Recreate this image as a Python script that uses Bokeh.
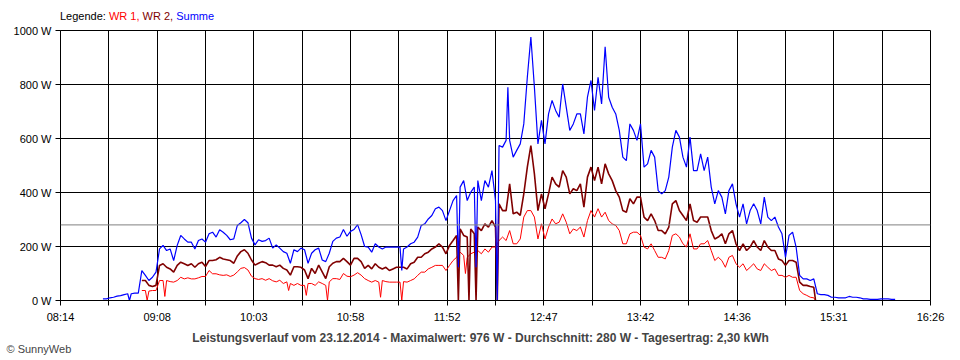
import numpy as np
from bokeh.plotting import figure
from bokeh.models import Range1d, FixedTicker, Span, Label, Div
from bokeh.layouts import column
from bokeh.embed import file_html
from bokeh.resources import INLINE

# ---------------- data ----------------
x_tick_labels = ["08:14", "09:08", "10:03", "10:58", "11:52", "12:47", "13:42", "14:36", "15:31", "16:26"]
y_ticks = [0, 200, 400, 600, 800, 1000]
y_tick_labels = ["0 W", "200 W", "400 W", "600 W", "800 W", "1000 W"]

series_names = ["WR 1", "WR 2", "Summe"]
series_colors = ["#FF0000", "#800000", "#0000FF"]

step_min = 2
sum_start = "08:38"
summe = [6, 6, 10, 12, 16, 18, 22, 25, 25, 27, 27, 111, 93, 74, 86, 105, 191, 204, 185, 191,
         148, 204, 241, 228, 216, 216, 191, 222, 228, 216, 247, 253, 235, 262, 253, 241, 225, 228, 278, 288,
         300, 288, 231, 206, 225, 219, 222, 231, 194, 206, 194, 181, 175, 138, 188, 181, 194, 188, 138, 175,
         188, 194, 150, 144, 175, 219, 231, 235, 263, 238, 256, 263, 281, 244, 200, 198, 179, 210, 198, 191,
         198, 198, 198, 198, 198, 191, 198, 210, 216, 235, 278, 284, 302, 315, 340, 346, 333, 296, 333, 370,
         389, 420, 444, 370, 401, 420, 444, 370, 444, 420, 481, 370, 574, 568, 593, 593, 531, 556, 580, 654,
         827, 976, 790, 580, 667, 580, 691, 741, 704, 679, 802, 716, 630, 654, 691, 691, 617, 753, 815, 704,
         827, 728, 940, 753, 716, 691, 630, 531, 518, 654, 630, 593, 654, 494, 506, 556, 531, 407, 395, 407,
         457, 568, 630, 605, 531, 494, 605, 481, 481, 543, 481, 531, 420, 358, 407, 383, 321, 407, 432, 358,
         309, 358, 284, 333, 358, 333, 284, 383, 309, 296, 309, 272, 247, 160, 241, 253, 198, 93, 80, 80,
         74, 80, 25, 22, 22, 19, 12, 12, 10, 10, 10, 15, 12, 12, 10, 6, 6, 4, 4, 4,
         6, 6, 6, 4, 4]
summe_extra_t = ["08:53", "11:27", "11:59", "12:09", "12:21", "12:27"]
summe_extra_w = [0, 111, 123, 123, 0, 790]

wr_start = "09:00"
wr2 = [74, 74, 56, 52, 56, 130, 136, 123, 117, 105, 130, 142, 136, 130, 136, 123, 136, 142, 126, 148,
       148, 151, 160, 154, 151, 148, 138, 165, 181, 188, 175, 150, 131, 138, 144, 140, 131, 131, 125, 131,
       119, 113, 94, 125, 125, 123, 113, 81, 119, 100, 131, 106, 81, 125, 138, 144, 144, 156, 144, 131,
       156, 156, 144, 119, 130, 117, 136, 123, 117, 123, 111, 117, 123, 123, 123, 117, 136, 142, 160, 160,
       173, 179, 191, 198, 210, 198, 173, 204, 222, 241, 265, 241, 235, 265, 247, 272, 259, 284, 272, 296,
       272, 358, 333, 333, 432, 321, 327, 315, 395, 494, 574, 469, 333, 395, 340, 395, 457, 432, 420, 481,
       457, 395, 414, 407, 432, 346, 457, 494, 444, 494, 432, 506, 469, 444, 407, 383, 333, 327, 377, 358,
       383, 383, 309, 296, 321, 296, 259, 259, 247, 272, 358, 370, 333, 315, 296, 358, 296, 290, 309, 309,
       309, 259, 228, 235, 247, 210, 247, 259, 210, 185, 210, 185, 198, 222, 198, 185, 222, 198, 185, 185,
       154, 148, 130, 148, 148, 142, 68, 56, 56, 52, 49]
wr2_extra_t = ["11:59", "12:05", "12:09", "12:21", "15:21"]
wr2_extra_w = [0, 0, 0, 0, 0]

wr1 = [37, 37, 35, 37, 37, 74, 74, 74, 70, 68, 74, 86, 80, 84, 80, 80, 84, 89, 89, 111,
       99, 99, 95, 93, 95, 89, 94, 106, 119, 122, 113, 90, 81, 78, 81, 75, 81, 73, 69, 75,
       63, 69, 63, 56, 63, 56, 56, 63, 63, 56, 69, 63, 56, 69, 81, 81, 78, 100, 90, 88,
       94, 103, 94, 81, 74, 68, 74, 68, 74, 70, 68, 68, 68, 68, 70, 68, 74, 80, 93, 105,
       105, 117, 123, 130, 130, 130, 111, 130, 148, 160, 179, 167, 160, 173, 179, 185, 173, 191, 179, 198,
       198, 222, 235, 222, 259, 210, 210, 228, 309, 333, 333, 309, 228, 284, 228, 272, 302, 284, 290, 321,
       290, 247, 265, 259, 272, 235, 296, 333, 309, 340, 309, 327, 296, 284, 278, 259, 210, 210, 247, 253,
       253, 241, 198, 191, 210, 185, 160, 160, 154, 185, 241, 247, 235, 210, 198, 247, 191, 191, 210, 210,
       222, 185, 148, 160, 148, 123, 160, 167, 136, 123, 136, 111, 123, 136, 117, 111, 136, 123, 111, 117,
       93, 93, 86, 93, 86, 86, 37, 25, 19, 12, 10]
wr1_extra_t = ["09:03", "09:13", "10:23", "10:33", "10:45", "11:15", "11:27", "12:03", "15:21"]
wr1_extra_w = [0, 15, 37, 19, 0, 12, 0, 100, 0]

avg_w = 280
title_text = "Leistungsverlauf vom 23.12.2014 - Maximalwert: 976 W - Durchschnitt: 280 W - Tagesertrag: 2,30 kWh"

# ---------------- helpers ----------------
def hm(s):
    h, m = s.split(":")
    return int(h) * 60 + int(m)

def build(start, values, extra_t, extra_w):
    t0 = hm(start)
    pts = [(t0 + i * step_min, v) for i, v in enumerate(values)]
    pts += [(hm(t), w) for t, w in zip(extra_t, extra_w)]
    pts.sort()
    return [p[0] for p in pts], [p[1] for p in pts]

x_lo, x_hi = hm(x_tick_labels[0]), hm(x_tick_labels[-1])
major = list(np.linspace(x_lo, x_hi, len(x_tick_labels)))
minor = [(a + b) / 2 for a, b in zip(major[:-1], major[1:])]

FONT = "Liberation Sans"
LEG_H = 22

# ---------------- legend line (HTML text above the chart) ----------------
parts = ['<span style="color:black">Legende:</span>']
for i, (nm, col) in enumerate(zip(series_names, series_colors)):
    sep = "," if i < len(series_names) - 1 else ""
    parts.append(f'<span style="color:{col}">{nm}{sep}</span>')
legend_div = Div(text=" ".join(parts), width=960, height=LEG_H, margin=(0, 0, 0, 0),
                 styles={"font-family": FONT, "font-size": "11px", "padding-left": "60px",
                         "padding-top": "10px", "line-height": "13px", "white-space": "nowrap",
                         "box-sizing": "border-box"})

# ---------------- chart ----------------
p = figure(width=960, height=360 - LEG_H, output_backend="svg", toolbar_location=None,
           x_range=Range1d(x_lo, x_hi), y_range=Range1d(0, 1000),
           min_border_left=60, min_border_right=30, min_border_top=30 - LEG_H, min_border_bottom=60,
           margin=(0, 0, 0, 0))
p.outline_line_color = "black"
p.background_fill_color = "white"
p.border_fill_color = "white"

p.xaxis.ticker = FixedTicker(ticks=major, minor_ticks=minor)
p.xaxis.major_label_overrides = {float(m): lab for m, lab in zip(major, x_tick_labels)}
p.xaxis.major_tick_out = 5
p.xaxis.major_tick_in = 0
p.xaxis.minor_tick_out = 5
p.xaxis.minor_tick_in = 0
p.xaxis.major_label_standoff = 5
p.yaxis.ticker = FixedTicker(ticks=y_ticks)
p.yaxis.major_label_overrides = {t: lab for t, lab in zip(y_ticks, y_tick_labels)}
p.yaxis.major_tick_out = 5
p.yaxis.major_tick_in = 0
p.yaxis.major_label_standoff = 4
for ax in (p.xaxis, p.yaxis):
    ax.axis_line_color = "black"
    ax.major_tick_line_color = "black"
    ax.minor_tick_line_color = "black"
    ax.major_label_text_font = FONT
    ax.major_label_text_font_size = "11px"
    ax.major_label_text_color = "black"
p.yaxis.minor_tick_line_color = None

p.xgrid.grid_line_color = "black"
p.xgrid.minor_grid_line_color = "black"
p.ygrid.grid_line_color = "black"

p.add_layout(Span(location=avg_w, dimension="width", line_color="#808080", line_width=1))

xs, ys = build(wr_start, wr1, wr1_extra_t, wr1_extra_w)
p.line(xs, ys, line_color=series_colors[0], line_width=1)
xs, ys = build(wr_start, wr2, wr2_extra_t, wr2_extra_w)
p.line(xs, ys, line_color=series_colors[1], line_width=1.6)
xs, ys = build(sum_start, summe, summe_extra_t, summe_extra_w)
p.line(xs, ys, line_color=series_colors[2], line_width=1.2)

# bottom texts: canvas units, placed in the lower side panel so they are not clipped
p.add_layout(Label(x=480, y=337 - LEG_H, x_units="canvas", y_units="canvas", text=title_text,
                   text_font=FONT, text_font_size="12px", text_font_style="bold",
                   text_baseline="middle", text_align="center"), "below")
p.add_layout(Label(x=6, y=348 - LEG_H, x_units="canvas", y_units="canvas", text="© SunnyWeb",
                   text_font=FONT, text_font_size="11px", text_baseline="middle", text_align="left"),
             "below")

layout = column(legend_div, p, spacing=0, margin=(0, 0, 0, 0))
open("out.html", "w").write(file_html(layout, INLINE))
